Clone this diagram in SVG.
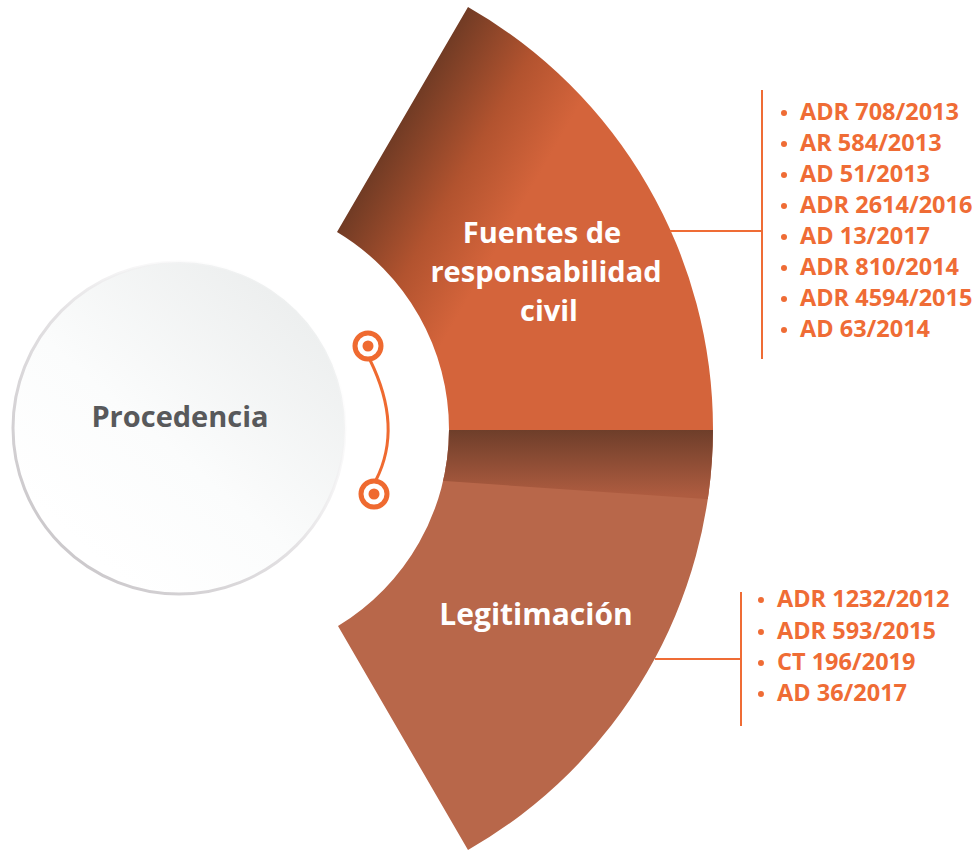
<svg xmlns="http://www.w3.org/2000/svg" width="979" height="850" viewBox="0 0 979 850">
<style>
.lbl{font-family:"Open Sans","Liberation Sans",sans-serif;font-weight:700;fill:#FFFFFF;font-size:29px;text-anchor:middle}
.item{font-family:"Open Sans","Liberation Sans",sans-serif;font-weight:700;fill:#EF6C35;font-size:23.5px}
.ln{stroke:#EF6C35;stroke-width:2;fill:none}
.ring{fill:#FFFFFF;stroke:#EF6A30;stroke-width:5}
.dot{fill:#EF6A30}
</style>
<defs>
<linearGradient id="gUp" gradientUnits="userSpaceOnUse" x1="395" y1="125" x2="525" y2="200">
<stop offset="0" stop-color="#6E3A24"/>
<stop offset="0.55" stop-color="#B2532F"/>
<stop offset="1" stop-color="#D4643B"/>
</linearGradient>
<linearGradient id="gShade" gradientUnits="userSpaceOnUse" x1="0" y1="430" x2="0" y2="495">
<stop offset="0" stop-color="#6E3E2A"/>
<stop offset="1" stop-color="#AE5C40"/>
</linearGradient>
<linearGradient id="gCirc" x1="0.85" y1="0.1" x2="0.2" y2="0.85">
<stop offset="0" stop-color="#ECEEEE"/>
<stop offset="0.6" stop-color="#FBFCFC"/>
<stop offset="1" stop-color="#FFFFFF"/>
</linearGradient>
<linearGradient id="gEdge" x1="0.9" y1="0.1" x2="0.1" y2="0.9">
<stop offset="0" stop-color="#FFFFFF" stop-opacity="0"/>
<stop offset="0.5" stop-color="#E4E2E4"/>
<stop offset="1" stop-color="#C9C6C9"/>
</linearGradient>
<clipPath id="cLow">
<path d="M449,430 L713,430 A486,486 0 0 1 468,850 L338,626 A230,230 0 0 0 449,430 Z"/>
</clipPath>
</defs>

<g id="procedencia">
<circle cx="179" cy="428" r="166" fill="url(#gCirc)" stroke="url(#gEdge)" stroke-width="3"/>
<text x="180" y="427" font-family="'Open Sans','Liberation Sans',sans-serif" font-weight="700" font-size="29" fill="#58595B" text-anchor="middle">Procedencia</text>
</g>

<g id="fuentes">
<path d="M337,232 L468,7 A486,486 0 0 1 713,430 L449,430 A230,230 0 0 0 337,232 Z" fill="url(#gUp)"/>
<text class="lbl" x="542" y="243">Fuentes de</text>
<text class="lbl" x="546" y="282">responsabilidad</text>
<text class="lbl" x="549" y="321">civil</text>
</g>

<g id="legitimacion">
<path d="M449,430 L713,430 A486,486 0 0 1 468,850 L338,626 A230,230 0 0 0 449,430 Z" fill="#B8674A"/>
<polygon points="430,430 720,430 720,500 430,480" fill="url(#gShade)" clip-path="url(#cLow)"/>
<text class="lbl" x="536" y="625" style="font-size:30px">Legitimación</text>
</g>

<g id="connectors">
<path d="M370,360 Q403,427 376,480" stroke="#EF6A30" stroke-width="3" fill="none"/>
<path class="ln" d="M670,231 L762,231 M762,90 L762,359"/>
<path class="ln" d="M655,659 L741,659 M741,592 L741,726"/>
</g>

<g id="ring-top">
<circle class="ring" cx="368" cy="346" r="13"/>
<circle class="dot" cx="368" cy="346" r="5.5"/>
</g>
<g id="ring-bottom">
<circle class="ring" cx="374" cy="494" r="13"/>
<circle class="dot" cx="374" cy="494" r="5.5"/>
</g>

<g id="list-fuentes">
<g fill="#EF6C35">
<circle cx="784" cy="113" r="3"/><circle cx="784" cy="144" r="3"/><circle cx="784" cy="175" r="3"/><circle cx="784" cy="206" r="3"/>
<circle cx="784" cy="237" r="3"/><circle cx="784" cy="268" r="3"/><circle cx="784" cy="299" r="3"/><circle cx="784" cy="330" r="3"/>
</g>
<text class="item" x="800" y="120">ADR 708/2013</text>
<text class="item" x="800" y="151">AR 584/2013</text>
<text class="item" x="800" y="182">AD 51/2013</text>
<text class="item" x="800" y="213">ADR 2614/2016</text>
<text class="item" x="800" y="244">AD 13/2017</text>
<text class="item" x="800" y="275">ADR 810/2014</text>
<text class="item" x="800" y="306">ADR 4594/2015</text>
<text class="item" x="800" y="337">AD 63/2014</text>
</g>

<g id="list-legitimacion">
<g fill="#EF6C35">
<circle cx="761" cy="600" r="3"/><circle cx="761" cy="632" r="3"/><circle cx="761" cy="663" r="3"/><circle cx="761" cy="694" r="3"/>
</g>
<text class="item" x="777" y="607">ADR 1232/2012</text>
<text class="item" x="777" y="639">ADR 593/2015</text>
<text class="item" x="777" y="670">CT 196/2019</text>
<text class="item" x="777" y="701">AD 36/2017</text>
</g>
</svg>
